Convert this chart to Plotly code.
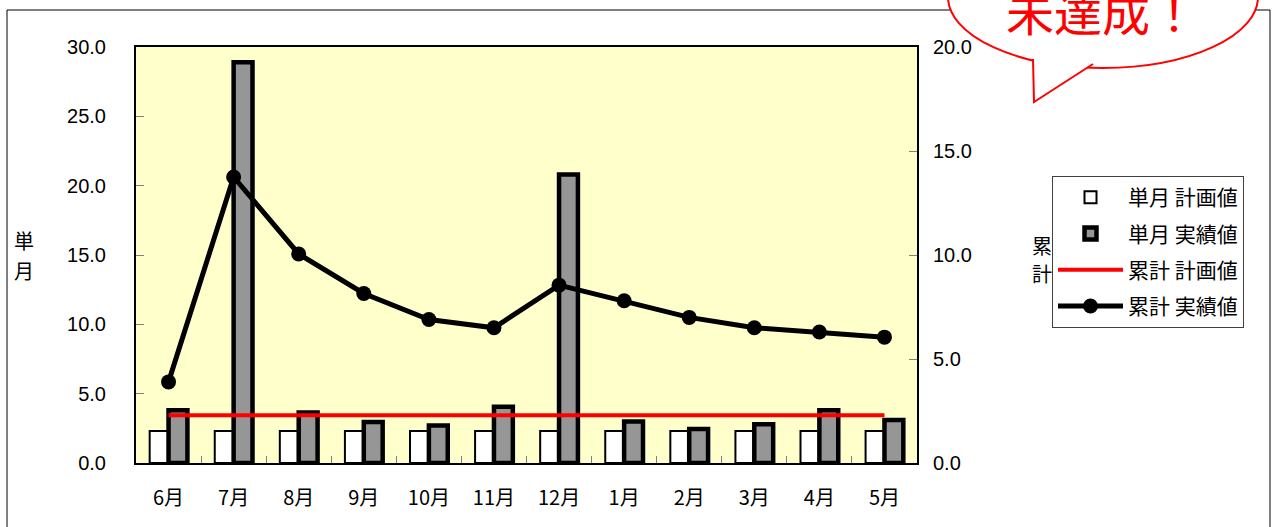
import plotly.graph_objects as go

months = ["6月", "7月", "8月", "9月", "10月", "11月", "12月", "1月", "2月", "3月", "4月", "5月"]
plan_monthly = [2.3, 2.3, 2.3, 2.3, 2.3, 2.3, 2.3, 2.3, 2.3, 2.3, 2.3, 2.3]
actual_monthly = [3.8, 28.9, 3.65, 2.95, 2.7, 4.05, 20.8, 3.0, 2.45, 2.8, 3.8, 3.1]
plan_cum = [2.3, 2.3, 2.3, 2.3, 2.3, 2.3, 2.3, 2.3, 2.3, 2.3, 2.3, 2.3]
actual_cum = [3.9, 13.75, 10.05, 8.15, 6.9, 6.5, 8.55, 7.8, 7.0, 6.5, 6.3, 6.05]

left_ticks = [0, 5, 10, 15, 20, 25, 30]
right_ticks = [0, 5, 10, 15, 20]

FONT = "Liberation Sans, Arial, Noto Sans CJK JP, sans-serif"
JP = "Noto Sans CJK JP, sans-serif"

W, H = 1275, 527
L, R, T, B = 136, 917, 47, 463


def px(x):
    return (x - L) / (R - L)


def py(y):
    return (B - y) / (B - T)


fig = go.Figure()
fig.add_trace(go.Bar(
    x=months, y=plan_monthly, name="単月 計画値", yaxis="y",
    marker=dict(color="white", line=dict(color="black", width=2)),
    legendgroup="a",
))
fig.add_trace(go.Bar(
    x=months, y=actual_monthly, name="単月 実績値", yaxis="y",
    marker=dict(color="#969696", line=dict(color="black", width=4.5)),
    legendgroup="b",
))
fig.add_trace(go.Scatter(
    x=months, y=plan_cum, name="累計 計画値", yaxis="y2", mode="lines",
    line=dict(color="#FF0000", width=4), legendgroup="c",
))
fig.add_trace(go.Scatter(
    x=months, y=actual_cum, name="累計 実績値", yaxis="y2", mode="lines+markers",
    line=dict(color="black", width=5), marker=dict(color="black", size=15),
    legendgroup="d",
))

shapes = [
    # outer chart frame
    dict(type="rect", xref="paper", yref="paper", x0=px(7), x1=px(1270), y0=py(10), y1=py(545),
         line=dict(color="black", width=1), fillcolor="rgba(0,0,0,0)", layer="below"),
    # callout ellipse
    dict(type="circle", xref="paper", yref="paper", x0=px(948), x1=px(1258), y0=py(-74), y1=py(68),
         line=dict(color="#FF0000", width=2), fillcolor="white", layer="above"),
    # callout tail
    dict(type="path", xref="paper", yref="paper",
         path="M {:.5f} {:.5f} L {:.5f} {:.5f} L {:.5f} {:.5f}".format(px(1033), py(59), px(1034), py(102), px(1093), py(64)),
         line=dict(color="#FF0000", width=2), fillcolor="white", layer="above"),
]


def jp_note(text, x, y, size=20, color="black"):
    return dict(text=text, xref="paper", yref="paper", x=px(x), y=py(y), showarrow=False,
                font=dict(family=JP, size=size, color=color), xanchor="center", yanchor="middle")


annotations = [
    jp_note("単", 24, 240),
    jp_note("月", 24, 270),
    jp_note("累", 1042, 245),
    jp_note("計", 1042, 273),
    jp_note("未達成！", 1102, 10, size=48, color="#FF0000"),
]

fig.update_layout(
    width=W, height=H, autosize=False,
    margin=dict(l=L, r=W - R, t=T, b=H - B, pad=0),
    paper_bgcolor="white", plot_bgcolor="#FFFFCC",
    font=dict(family=FONT, size=20, color="black"),
    barmode="group", bargap=0.42, bargroupgap=0.0,
    xaxis=dict(
        type="category", range=[-0.5, 11.5], showline=True, linecolor="black", linewidth=2, mirror=True,
        ticks="inside", tickson="boundaries", ticklen=7, tickcolor="#808080", tickwidth=1,
        showgrid=False, tickfont=dict(family=JP, size=20, color="black"),
        ticklabelstandoff=16,
    ),
    yaxis=dict(
        range=[0, 30], tickvals=left_ticks, tickformat=".1f",
        showline=True, linecolor="black", linewidth=2, mirror=True,
        ticks="inside", ticklen=8, tickcolor="#808080", tickwidth=1,
        showgrid=False, zeroline=False, ticklabelstandoff=24,
        tickfont=dict(family=FONT, size=20, color="black"),
    ),
    yaxis2=dict(
        range=[0, 20], tickvals=right_ticks, tickformat=".1f", overlaying="y", side="right",
        showline=False, ticks="inside", ticklen=8, tickcolor="#808080", tickwidth=1,
        showgrid=False, zeroline=False, ticklabelstandoff=15,
        tickfont=dict(family=FONT, size=20, color="black"),
    ),
    legend=dict(
        x=px(1052), y=py(176), xanchor="left", yanchor="top",
        bgcolor="white", bordercolor="#404040", borderwidth=1,
        font=dict(family=JP, size=21, color="black"),
        itemwidth=65, tracegroupgap=6, traceorder="grouped",
    ),
    shapes=shapes,
    annotations=annotations,
)

fig.write_html("out.html")
